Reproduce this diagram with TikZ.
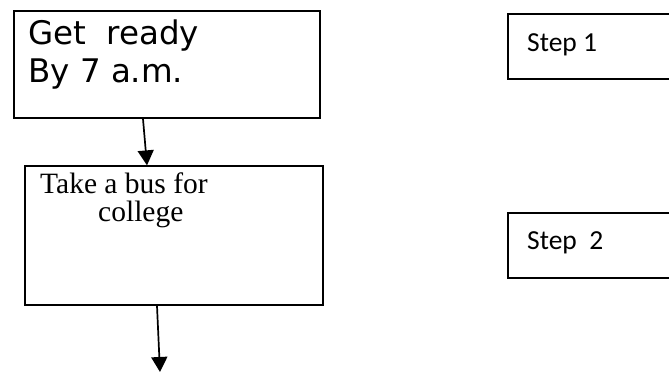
\documentclass[tikz,border=0pt]{standalone}
\usepackage{fontspec}
\setmainfont{Liberation Serif}
\newfontfamily\verd{DejaVu Sans}
\newfontfamily\calib{Carlito}
\usetikzlibrary{arrows.meta,calc}
\begin{document}
\begin{tikzpicture}[x=1pt,y=1pt,
  box/.style={draw,line width=1.6pt,inner sep=0pt,anchor=south west},
  lbl/.style={inner sep=0pt,anchor=base west},
  arr/.style={line width=1.7pt,-{Triangle[length=15pt,width=16pt]}}]
\useasboundingbox (0,0) rectangle (669,372);
\clip (0,0) rectangle (669,372);
% left boxes
\node[box,minimum width=306pt,minimum height=107pt] (b1) at (13,253) {};
\node[box,minimum width=298pt,minimum height=139pt] (b2) at (24,66) {};
% right boxes (right edge cut off)
\node[box,minimum width=180pt,minimum height=65pt] (s1) at (507,292) {};
\node[box,minimum width=180pt,minimum height=65pt] (s2) at (507,93) {};
% texts
\node[lbl,font=\verd\fontsize{32.5}{38}\selectfont] (t1a) at (28,327) {Get\ \ ready};
\node[lbl,font=\verd\fontsize{32.5}{38}\selectfont] (t1b) at (28,289) {By 7 a.m.};
\node[lbl,font=\fontsize{29.5}{27.5}\selectfont] (t2a) at (40,178) {Take a bus for};
\node[lbl,font=\fontsize{29.5}{27.5}\selectfont] (t2b) at (98,150.5) {college};
\node[lbl,font=\calib\fontsize{27.5}{30}\selectfont] (t3) at (527,320) {Step 1};
\node[lbl,font=\calib\fontsize{27.5}{30}\selectfont] (t4) at (527,122) {Step\ \ 2};
% connectors
\coordinate (end) at (160,0);
\draw[arr] ([xshift=130pt]b1.south west) -- ([xshift=123pt]b2.north west);
\draw[arr] ([xshift=133pt]b2.south west) -- (end);
\end{tikzpicture}
\end{document}
